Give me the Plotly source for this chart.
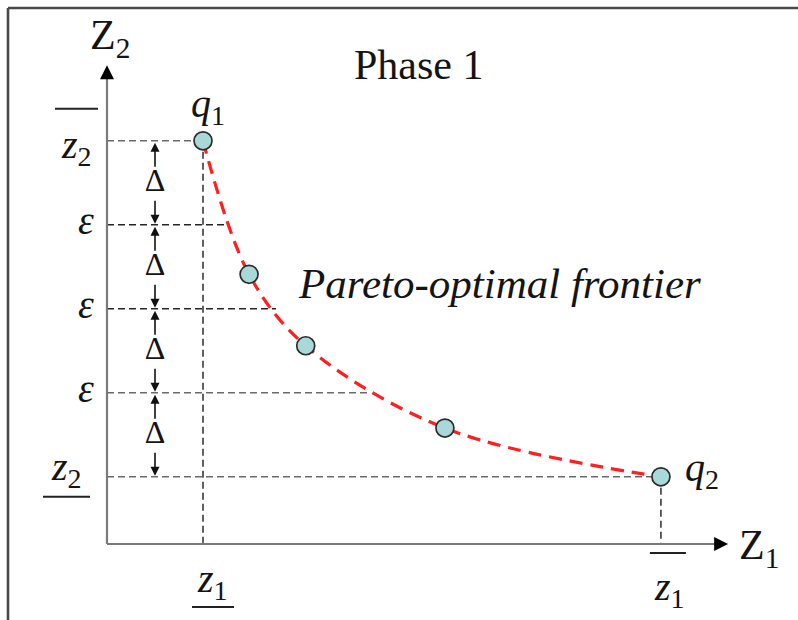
import plotly.graph_objects as go

# Objective values (Z1, Z2) of the solutions found along the frontier
z1_values = [10.0, 14.8, 20.7, 35.2, 57.7]
z2_values = [48.0, 32.1, 23.6, 13.8, 8.0]
point_names = ["q1", "", "", "", "q2"]

# Bounds of the objectives
z1_lower, z1_upper = 10.0, 57.7
z2_lower, z2_upper = 8.0, 48.0

# Epsilon-constraint levels on Z2 (step Delta) and where each meets the frontier
eps_levels = [38.0, 28.0, 18.0]
eps_frontier_z1 = [12.3, 17.6, 27.1]

# Axis extents (data units)
z1_axis_end = 64.7
z2_axis_end = 57.0
delta_x = 5.0

# Pixel geometry of the drawing area
W, H = 798, 620
X0_PX, X_SCALE = 107, 9.6
Y0_PX, Y_SCALE = 544, 8.4
x_range = [-X0_PX / X_SCALE, (W - X0_PX) / X_SCALE]
y_range = [-(H - Y0_PX) / Y_SCALE, Y0_PX / Y_SCALE]


def dx(px):
    return px / X_SCALE


def dy(px):
    return px / Y_SCALE


SERIF = "Liberation Serif"
INK = "#141414"
GUIDE_GREY = "#6a6a6a"
GUIDE_DARK = "#262626"
GUIDE_DASH = "7px,4px"

fig = go.Figure()


def guide(xs, ys, color):
    fig.add_trace(go.Scatter(x=xs, y=ys, mode="lines", hoverinfo="skip",
                             line=dict(color=color, width=1.6, dash=GUIDE_DASH)))


# Guide lines for the bounds
guide([0, z1_lower], [z2_upper, z2_upper], GUIDE_GREY)
guide([0, z1_upper], [z2_lower, z2_lower], GUIDE_GREY)
guide([z1_lower, z1_lower], [z2_upper, 0], "#3a3a3a")
guide([z1_upper, z1_upper], [z2_lower, 0], "#3a3a3a")

# Guide lines for the epsilon levels
for lvl, end, col in zip(eps_levels, eps_frontier_z1, [GUIDE_DARK, GUIDE_DARK, GUIDE_GREY]):
    guide([0, end], [lvl, lvl], col)

# Axes: grey shafts with black arrowheads
fig.add_trace(go.Scatter(x=[0, 0, None, 0, z1_axis_end - dx(8)],
                         y=[0, z2_axis_end - dy(8), None, 0, 0], mode="lines",
                         line=dict(color="#7a7a7a", width=2.2), hoverinfo="skip"))
fig.add_trace(go.Scatter(x=[0], y=[z2_axis_end], mode="markers", hoverinfo="skip",
                         marker=dict(symbol="arrow-up", size=14, color="#000",
                                     line=dict(width=0))))
fig.add_trace(go.Scatter(x=[z1_axis_end], y=[0], mode="markers", hoverinfo="skip",
                         marker=dict(symbol="arrow-right", size=14, color="#000",
                                     line=dict(width=0))))

# Delta arrows between consecutive Z2 levels
all_levels = [z2_upper] + eps_levels + [z2_lower]
shaft_x, shaft_y = [], []
up_y, down_y, mid_y = [], [], []
for hi, lo in zip(all_levels[:-1], all_levels[1:]):
    shaft_x += [delta_x, delta_x, None, delta_x, delta_x, None]
    shaft_y += [hi - dy(6), hi - dy(26), None, lo + dy(5), lo + dy(24), None]
    up_y.append(hi - dy(2))
    down_y.append(lo + dy(1))
    mid_y.append((hi + lo) / 2)
fig.add_trace(go.Scatter(x=shaft_x, y=shaft_y, mode="lines", hoverinfo="skip",
                         line=dict(color="#111", width=1.6)))
fig.add_trace(go.Scatter(x=[delta_x] * len(up_y), y=up_y, mode="markers", hoverinfo="skip",
                         marker=dict(symbol="arrow-up", size=9, color="#111",
                                     line=dict(width=0))))
fig.add_trace(go.Scatter(x=[delta_x] * len(down_y), y=down_y, mode="markers", hoverinfo="skip",
                         marker=dict(symbol="arrow-down", size=9, color="#111",
                                     line=dict(width=0))))
fig.add_trace(go.Scatter(x=[delta_x] * len(mid_y), y=mid_y, mode="text", text=["Δ"] * len(mid_y),
                         textfont=dict(family=SERIF, size=32, color=INK), hoverinfo="skip"))

# Pareto-optimal frontier
fig.add_trace(go.Scatter(x=z1_values, y=z2_values, mode="lines",
                         line=dict(color="#ff1f1f", width=3.2, dash="13px,8px",
                                   shape="spline", smoothing=1.0),
                         hoverinfo="skip"))
fig.add_trace(go.Scatter(x=z1_values, y=z2_values, mode="markers",
                         marker=dict(size=18, color="#a9d8d8",
                                     line=dict(color="#2b2b2b", width=1.7)),
                         text=point_names, hoverinfo="x+y+text"))

shapes = []
annotations = []

# Level labels on the Z2 axis
for lvl in eps_levels:
    annotations.append(dict(x=-dx(21), y=lvl + dy(4), text="<i>ε</i>", showarrow=False,
                            xref="x", yref="y", font=dict(family=SERIF, size=40, color=INK)))


def bound_label(x, y, text, bar_y, bar_x0, bar_x1):
    annotations.append(dict(x=x, y=y, text=text, showarrow=False, xref="x", yref="y",
                            font=dict(family=SERIF, size=40, color=INK)))
    shapes.append(dict(type="line", xref="x", yref="y", x0=bar_x0, x1=bar_x1, y0=bar_y, y1=bar_y,
                       line=dict(color="#222", width=2)))


# Z2 upper bound (overline) and lower bound (underline)
bound_label(-dx(31), z2_upper - dy(6), "<i>z</i><sub>2</sub>",
            z2_upper + dy(32), -dx(52), -dx(9))
bound_label(-dx(41), z2_lower + dy(8), "<i>z</i><sub>2</sub>",
            z2_lower - dy(20), -dx(64), -dx(17))
# Z1 lower bound (underline) and upper bound (overline)
bound_label(z1_lower + dx(9), -dy(37), "<i>z</i><sub>1</sub>",
            -dy(63), z1_lower - dx(11), z1_lower + dx(31))
bound_label(z1_upper + dx(9), -dy(45), "<i>z</i><sub>1</sub>",
            -dy(9), z1_upper - dx(11), z1_upper + dx(25))

# Axis titles
annotations.append(dict(x=dx(3), y=z2_axis_end + dy(27), text="Z<sub>2</sub>", showarrow=False,
                        xref="x", yref="y", font=dict(family=SERIF, size=42, color=INK)))
annotations.append(dict(x=z1_axis_end + dx(31), y=-dy(4), text="Z<sub>1</sub>", showarrow=False,
                        xref="x", yref="y", font=dict(family=SERIF, size=42, color=INK)))

# Point labels
annotations.append(dict(x=z1_values[0] + dx(5), y=z2_values[0] + dy(35),
                        text="<i>q</i><sub>1</sub>", showarrow=False, xref="x", yref="y",
                        font=dict(family=SERIF, size=40, color=INK)))
annotations.append(dict(x=z1_values[-1] + dx(41), y=z2_values[-1] + dy(7),
                        text="<i>q</i><sub>2</sub>", showarrow=False, xref="x", yref="y",
                        font=dict(family=SERIF, size=40, color=INK)))

# Titles inside the drawing
annotations.append(dict(x=419 / W, y=1 - 40 / H, text="Phase 1", showarrow=False,
                        xref="paper", yref="paper", font=dict(family=SERIF, size=42, color=INK)))
annotations.append(dict(x=499 / W, y=1 - 284 / H, text="<i>Pareto-optimal frontier</i>",
                        showarrow=False, xref="paper", yref="paper",
                        font=dict(family=SERIF, size=43, color=INK)))

# Frame (left and top edges)
shapes.append(dict(type="line", xref="paper", yref="paper", x0=8 / W, x1=8 / W, y0=-0.02,
                   y1=1 - 8 / H, line=dict(color="#4a4a4a", width=2.6)))
shapes.append(dict(type="line", xref="paper", yref="paper", x0=8 / W, x1=1.02, y0=1 - 8 / H,
                   y1=1 - 8 / H, line=dict(color="#4a4a4a", width=2.6)))

fig.update_layout(
    width=W, height=H, autosize=False,
    margin=dict(l=0, r=0, t=0, b=0),
    paper_bgcolor="white", plot_bgcolor="white",
    showlegend=False,
    font=dict(family=SERIF),
    xaxis=dict(range=x_range, visible=False, fixedrange=True),
    yaxis=dict(range=y_range, visible=False, fixedrange=True),
    shapes=shapes, annotations=annotations,
)

fig.write_html("out.html")
